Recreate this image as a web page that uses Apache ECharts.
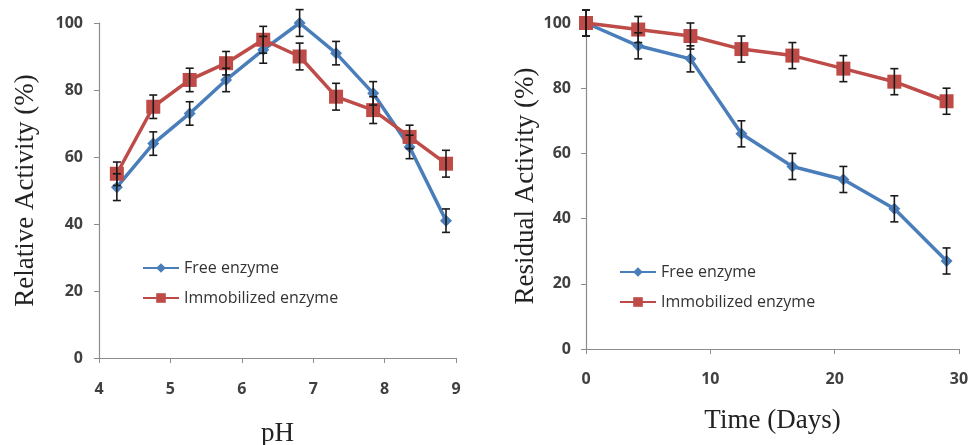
<!DOCTYPE html>
<html>
<head>
<meta charset="utf-8">
<script src="https://cdn.jsdelivr.net/npm/echarts@6/dist/echarts.min.js"></script>
<style>html,body{margin:0;padding:0;background:#fff;}#c{width:971px;height:445px;}</style>
</head>
<body>
<div id="c"></div>
<script>
// ---- Data: pH chart ----
const phX = [4.25, 4.76, 5.27, 5.78, 6.30, 6.81, 7.32, 7.84, 8.35, 8.86];
const phFree = [51, 64, 73, 83, 92, 100, 91, 79, 63, 41];
const phFreeErr = [4, 3.5, 3.5, 3.5, 4, 4, 3.5, 3.5, 3.5, 3.5];
const phImm = [55, 75, 83, 88, 95, 90, 78, 74, 66, 58];
const phImmErr = [3.5, 3.5, 3.5, 3.5, 4, 4, 4, 4, 3.5, 4];
// ---- Data: storage time chart ----
const dayX = [0, 4.2, 8.4, 12.5, 16.6, 20.7, 24.8, 29];
const dayFree = [100, 93, 89, 66, 56, 52, 43, 27];
const dayFreeErr = [4, 4, 4, 4, 4, 4, 4, 4];
const dayImm = [100, 98, 96, 92, 90, 86, 82, 76];
const dayImmErr = [4, 4, 4, 4, 4, 4, 4, 4];
const seriesNames = ['Free enzyme', 'Immobilized enzyme'];

const BLUE = '#4A7EBB', RED = '#BE4B48';
const pairs = (xs, ys) => xs.map((x, i) => [x, ys[i]]);
const triples = (xs, ys, es) => xs.map((x, i) => [x, ys[i], es[i]]);

function errRender(params, api) {
  const x = api.value(0), y = api.value(1), e = api.value(2);
  const hi = api.coord([x, y + e]);
  const lo = api.coord([x, y - e]);
  const w = 4;
  const st = { stroke: '#1a1a1a', lineWidth: 1.6 };
  return {
    type: 'group',
    children: [
      { type: 'line', shape: { x1: hi[0], y1: hi[1], x2: lo[0], y2: lo[1] }, style: st },
      { type: 'line', shape: { x1: hi[0] - w, y1: hi[1], x2: hi[0] + w, y2: hi[1] }, style: st },
      { type: 'line', shape: { x1: lo[0] - w, y1: lo[1], x2: lo[0] + w, y2: lo[1] }, style: st }
    ]
  };
}

const tickLabel = { color: '#404040', fontFamily: 'Open Sans', fontSize: 16, fontWeight: 'bold' };
const axisLine = { show: true, lineStyle: { color: '#8c8c8c', width: 1.2 } };
const axisTick = { show: true, length: 5, lineStyle: { color: '#8c8c8c' } };
const nameStyle = { fontFamily: 'Liberation Serif', fontSize: 27, color: '#222' };
const legendText = { fontFamily: 'Open Sans', fontSize: 16, color: '#333' };

function lineSeries(name, xi, data, color, symbol, size) {
  return {
    name, type: 'line', xAxisIndex: xi, yAxisIndex: xi, data,
    symbol, symbolSize: size, clip: false,
    lineStyle: { color, width: 3.5 }, itemStyle: { color },
    z: 3, animation: false
  };
}
function errSeries(xi, data) {
  return {
    type: 'custom', xAxisIndex: xi, yAxisIndex: xi, data,
    renderItem: errRender, encode: { x: 0, y: 1 }, z: 5, clip: false, animation: false,
    silent: true
  };
}

const chart = echarts.init(document.getElementById('c'));
chart.setOption({
  backgroundColor: '#fff',
  animation: false,
  grid: [
    { left: 99, right: 515, top: 23, bottom: 87, containLabel: false, outerBoundsMode: 'none' },
    { left: 586, right: 12, top: 23, bottom: 96, containLabel: false, outerBoundsMode: 'none' }
  ],
  xAxis: [
    { type: 'value', gridIndex: 0, min: 4, max: 9, interval: 1, splitLine: { show: false },
      axisLine, axisTick, axisLabel: Object.assign({ margin: 23 }, tickLabel),
      name: 'pH', nameLocation: 'middle', nameGap: 62, nameTextStyle: nameStyle },
    { type: 'value', gridIndex: 1, min: 0, max: 30, interval: 10, splitLine: { show: false },
      axisLine, axisTick, axisLabel: Object.assign({ margin: 22 }, tickLabel),
      name: 'Time (Days)', nameLocation: 'middle', nameGap: 58, nameTextStyle: nameStyle }
  ],
  yAxis: [
    { type: 'value', gridIndex: 0, min: 0, max: 100, interval: 20, splitLine: { show: false },
      axisLine, axisTick, axisLabel: Object.assign({ margin: 16 }, tickLabel),
      name: 'Relative Activity (%)', nameLocation: 'middle', nameGap: 60, nameTextStyle: nameStyle },
    { type: 'value', gridIndex: 1, min: 0, max: 100, interval: 20, splitLine: { show: false },
      axisLine, axisTick, axisLabel: Object.assign({ margin: 15 }, tickLabel),
      name: 'Residual Activity (%)', nameLocation: 'middle', nameGap: 38, nameTextStyle: nameStyle }
  ],
  legend: [
    { data: seriesNames, orient: 'vertical', left: 137, top: 255, itemGap: 14, itemWidth: 36, itemHeight: 12,
      textStyle: legendText, selectedMode: false },
    { data: seriesNames, orient: 'vertical', left: 614, top: 259, itemGap: 14, itemWidth: 36, itemHeight: 12,
      textStyle: legendText, selectedMode: false }
  ],
  series: [
    lineSeries(seriesNames[0], 0, pairs(phX, phFree), BLUE, 'diamond', 12),
    lineSeries(seriesNames[1], 0, pairs(phX, phImm), RED, 'rect', 14),
    errSeries(0, triples(phX, phFree, phFreeErr)),
    errSeries(0, triples(phX, phImm, phImmErr)),
    lineSeries(seriesNames[0], 1, pairs(dayX, dayFree), BLUE, 'diamond', 12),
    lineSeries(seriesNames[1], 1, pairs(dayX, dayImm), RED, 'rect', 14),
    errSeries(1, triples(dayX, dayFree, dayFreeErr)),
    errSeries(1, triples(dayX, dayImm, dayImmErr))
  ]
});
</script>
</body>
</html>
